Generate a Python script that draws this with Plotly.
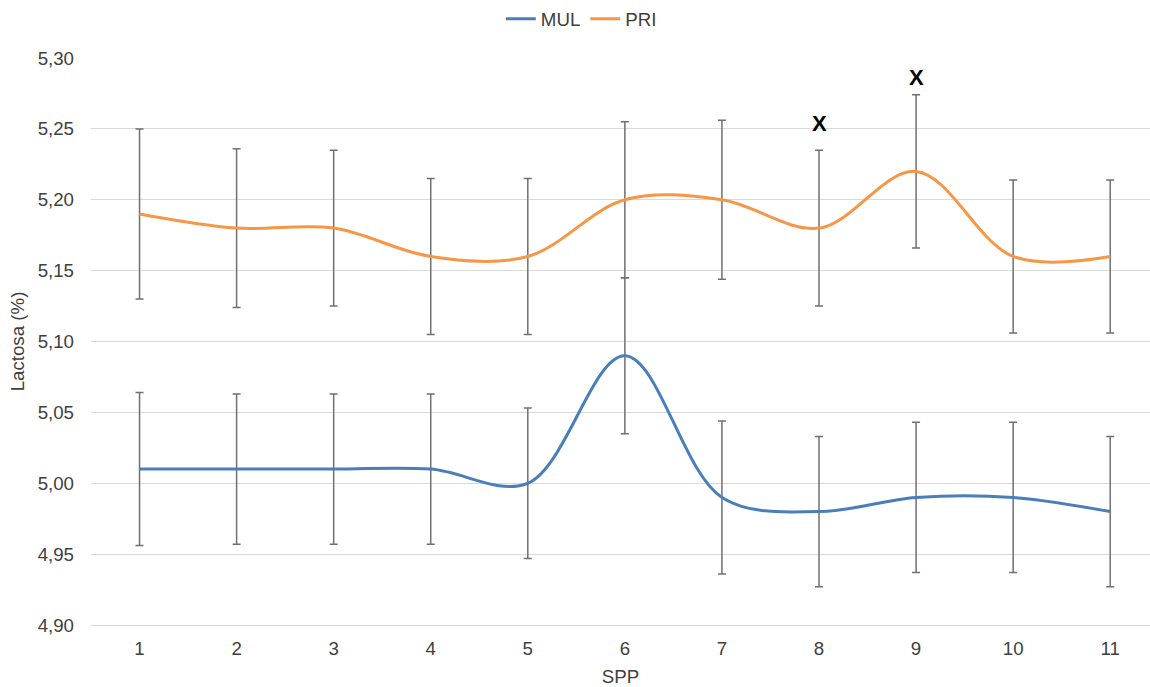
import plotly.graph_objects as go

spp = [1, 2, 3, 4, 5, 6, 7, 8, 9, 10, 11]
mul = [5.01, 5.01, 5.01, 5.01, 5.00, 5.09, 4.99, 4.98, 4.99, 4.99, 4.98]
mul_err = [0.054, 0.053, 0.053, 0.053, 0.053, 0.055, 0.054, 0.053, 0.053, 0.053, 0.053]
pri = [5.19, 5.18, 5.18, 5.16, 5.16, 5.20, 5.20, 5.18, 5.22, 5.16, 5.16]
pri_err = [0.060, 0.056, 0.055, 0.055, 0.055, 0.055, 0.056, 0.055, 0.054, 0.054, 0.054]
mark_x = [8, 9]
mark_y = [5.254, 5.286]
mark_text = ["X", "X"]
y_ticks = [4.90, 4.95, 5.00, 5.05, 5.10, 5.15, 5.20, 5.25, 5.30]

FONT = "Liberation Sans, Arial, sans-serif"
FS = 18.7
TXT = "#404040"
err_style = dict(type="data", visible=True, color="#707070", thickness=1.5, width=4)

fig = go.Figure()
fig.add_trace(go.Scatter(
    x=spp, y=mul, name="MUL", mode="lines",
    line=dict(color="#4A7EBB", width=3, shape="spline", smoothing=1),
    error_y=dict(array=mul_err, **err_style),
))
fig.add_trace(go.Scatter(
    x=spp, y=pri, name="PRI", mode="lines",
    line=dict(color="#F79646", width=3, shape="spline", smoothing=1),
    error_y=dict(array=pri_err, **err_style),
))

for xx, yy, tt in zip(mark_x, mark_y, mark_text):
    fig.add_annotation(x=xx, y=yy, text=f"<b>{tt}</b>", showarrow=False,
                       font=dict(family=FONT, size=22, color="#000000"))

fig.update_layout(
    width=1150, height=687,
    margin=dict(l=91, r=0, t=57, b=62),
    paper_bgcolor="white", plot_bgcolor="white",
    separators=",.",
    font=dict(family=FONT, size=FS, color=TXT),
    showlegend=True,
    legend=dict(orientation="h", x=0.463, xanchor="center", y=1.068, yanchor="middle",
                font=dict(family=FONT, size=FS, color=TXT),
                itemwidth=30, tracegroupgap=0),
    xaxis=dict(
        range=[0.5, 11.41], tickmode="array", tickvals=spp, ticktext=[str(s) for s in spp],
        showgrid=False, zeroline=False, showline=True, linecolor="#D9D9D9", linewidth=1,
        ticks="", ticklabelstandoff=7, tickfont=dict(size=FS, color=TXT),
        title=dict(text="SPP", font=dict(size=FS, color=TXT), standoff=14),
    ),
    yaxis=dict(
        range=[4.90, 5.30], tickmode="array", tickvals=y_ticks, tickformat=".2f",
        showgrid=True, gridcolor="#D9D9D9", gridwidth=1, zeroline=False,
        ticks="", ticklabelstandoff=16, tickfont=dict(size=FS, color=TXT),
        title=dict(text="Lactosa (%)", font=dict(size=FS, color=TXT), standoff=8),
    ),
)

fig.write_html("out.html")
